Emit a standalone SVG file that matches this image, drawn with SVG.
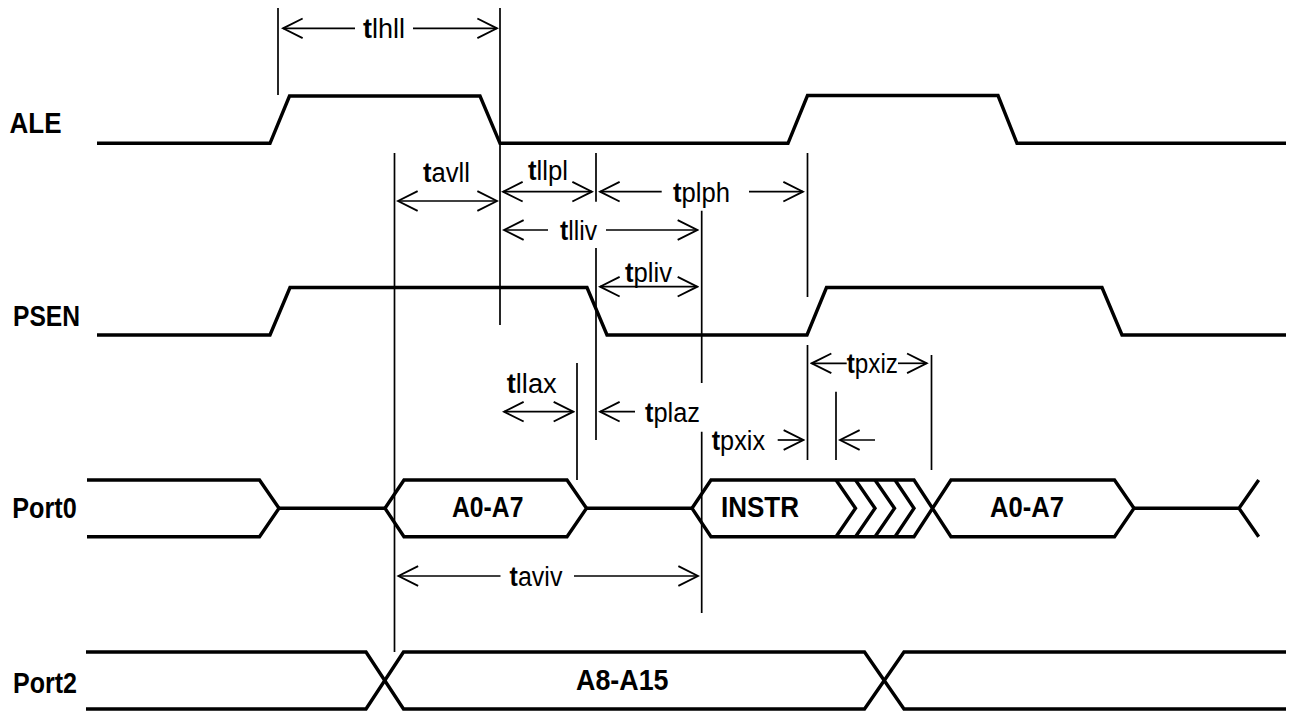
<svg xmlns="http://www.w3.org/2000/svg" width="1291" height="713" viewBox="0 0 1291 713">
<style>
.sig{fill:none;stroke:#000;stroke-width:3.4;stroke-linejoin:miter}
.ref{fill:none;stroke:#000;stroke-width:1.7}
.dim{fill:none;stroke:#000;stroke-width:1.7}
.name{font-family:"Liberation Sans",Arial,sans-serif;font-weight:bold;font-size:30px;fill:#000}
.bus{font-family:"Liberation Sans",Arial,sans-serif;font-weight:bold;font-size:29px;fill:#000;text-anchor:start}
.lab{font-family:"Liberation Sans",Arial,sans-serif;font-size:27px;fill:#000}
.b{font-weight:bold}
</style>
<defs>
<marker id="ah" markerUnits="userSpaceOnUse" markerWidth="24" markerHeight="24" viewBox="-20 -11 22 22" refX="0" refY="0" orient="auto-start-reverse">
<path d="M-18,-9 L0,0 L-18,9" fill="none" stroke="#000" stroke-width="1.7"/>
</marker>
</defs>
<rect width="1291" height="713" fill="#fff"/>

<g id="ALE">
<text class="name" x="9.5" y="133" textLength="52" lengthAdjust="spacingAndGlyphs">ALE</text>
<path class="sig" d="M97,143.3 H270 L289.5,96 H480 L500,143.3 H788 L807.5,95.5 H998 L1017,143.3 H1286"/>
</g>

<g id="PSEN">
<text class="name" x="13" y="326" textLength="67" lengthAdjust="spacingAndGlyphs">PSEN</text>
<path class="sig" d="M97,335 H270 L290,287.5 H587 L607,335 H807 L826.5,287.5 H1102 L1122,335 H1286"/>
</g>

<g id="Port0">
<text class="name" x="12.3" y="518.3" textLength="64.4" lengthAdjust="spacingAndGlyphs">Port0</text>
<path class="sig" d="M87,480 H259.5 L279,508.3 L259.5,536.7 H87"/>
<path class="sig" d="M279,508.3 H385"/>
<path class="sig" d="M385,508.3 L404,480 H567 L586.5,508.3 L567,536.7 H404 Z"/>
<path class="sig" d="M586.5,508.3 H692"/>
<path class="sig" d="M692,508.3 L711,480 H914 L951,536.7 H1114.5 L1134,508.3 L1114.5,480 H951 L914,536.7 H711 Z"/>
<path class="sig" d="M836,480 L855.5,508.3 L836,536.7 M855.5,480 L875,508.3 L855.5,536.7 M875,480 L894.5,508.3 L875,536.7 M895,480 L914,508.3 L895,536.7"/>
<path class="sig" d="M1134,508.3 H1239 M1258.7,480 L1239,508.3 L1258.7,536.7"/>
<text class="bus" x="452" y="517.3" textLength="71.4" lengthAdjust="spacingAndGlyphs">A0-A7</text>
<text class="bus" x="721" y="517.3" textLength="78" lengthAdjust="spacingAndGlyphs">INSTR</text>
<text class="bus" x="990" y="517.3" textLength="74" lengthAdjust="spacingAndGlyphs">A0-A7</text>
</g>

<g id="Port2">
<text class="name" x="13" y="693.3" textLength="64" lengthAdjust="spacingAndGlyphs">Port2</text>
<path class="sig" d="M86,652 H366 L403.5,709 H864.5 L904,652 H1286"/>
<path class="sig" d="M86,709 H366 L403.5,652 H864.5 L904,709 H1286"/>
<text class="bus" x="576" y="690" textLength="92.5" lengthAdjust="spacingAndGlyphs">A8-A15</text>
</g>

<g id="connectors">
<g id="reference-lines">
<path class="ref" d="M278,8 V95"/>
<path class="ref" d="M500,8 V325"/>
<path class="ref" d="M394.5,153 V652"/>
<path class="ref" d="M596,153 V201.7 M596,248 V440"/>
<path class="ref" d="M701.7,210.7 V383 M701.7,431.7 V613"/>
<path class="ref" d="M807.5,153 V297 M807.5,345 V460"/>
<path class="ref" d="M577,363 V480"/>
<path class="ref" d="M836,391.7 V460"/>
<path class="ref" d="M931.5,355 V470"/>
</g>
<g id="tlhll">
<path class="dim" d="M355,28.3 H283" marker-end="url(#ah)"/>
<path class="dim" d="M413,28.3 H497" marker-end="url(#ah)"/>
<text class="lab" x="363" y="37.5" textLength="42" lengthAdjust="spacingAndGlyphs"><tspan class="b">t</tspan>lhll</text>
</g>
<g id="tavll">
<path class="dim" d="M398,201 H497" marker-start="url(#ah)" marker-end="url(#ah)"/>
<text class="lab" x="423" y="181.7" textLength="47" lengthAdjust="spacingAndGlyphs"><tspan class="b">t</tspan>avll</text>
</g>
<g id="tllpl">
<path class="dim" d="M503,191.7 H592" marker-start="url(#ah)" marker-end="url(#ah)"/>
<text class="lab" x="528" y="180" textLength="40" lengthAdjust="spacingAndGlyphs"><tspan class="b">t</tspan>llpl</text>
</g>
<g id="tplph">
<path class="dim" d="M661.7,191.7 H600" marker-end="url(#ah)"/>
<path class="dim" d="M749,191.7 H803" marker-end="url(#ah)"/>
<text class="lab" x="673" y="201.7" textLength="57" lengthAdjust="spacingAndGlyphs"><tspan class="b">t</tspan>plph</text>
</g>
<g id="tlliv">
<path class="dim" d="M548,230 H504" marker-end="url(#ah)"/>
<path class="dim" d="M606,230 H697.3" marker-end="url(#ah)"/>
<text class="lab" x="560" y="240" textLength="37" lengthAdjust="spacingAndGlyphs"><tspan class="b">t</tspan>lliv</text>
</g>
<g id="tpliv">
<path class="dim" d="M600,286.7 H697.3" marker-start="url(#ah)" marker-end="url(#ah)"/>
<text class="lab" x="625" y="281.7" textLength="47" lengthAdjust="spacingAndGlyphs"><tspan class="b">t</tspan>pliv</text>
</g>
<g id="tllax">
<path class="dim" d="M504,411.7 H573.3" marker-start="url(#ah)" marker-end="url(#ah)"/>
<text class="lab" x="506.7" y="393.3" textLength="50" lengthAdjust="spacingAndGlyphs"><tspan class="b">t</tspan>llax</text>
</g>
<g id="tplaz">
<path class="dim" d="M635,411.7 H600" marker-end="url(#ah)"/>
<text class="lab" x="645" y="421.7" textLength="55" lengthAdjust="spacingAndGlyphs"><tspan class="b">t</tspan>plaz</text>
</g>
<g id="tpxix">
<path class="dim" d="M777.7,440 H803.3" marker-end="url(#ah)"/>
<path class="dim" d="M875,440 H840" marker-end="url(#ah)"/>
<text class="lab" x="711.7" y="450" textLength="53.3" lengthAdjust="spacingAndGlyphs"><tspan class="b">t</tspan>pxix</text>
</g>
<g id="tpxiz">
<path class="dim" d="M846.7,363.3 H811.7" marker-end="url(#ah)"/>
<path class="dim" d="M898,363.3 H926.7" marker-end="url(#ah)"/>
<text class="lab" x="846.7" y="373.3" textLength="51.3" lengthAdjust="spacingAndGlyphs"><tspan class="b">t</tspan>pxiz</text>
</g>
<g id="taviv">
<path class="dim" d="M500.5,576 H398.5" marker-end="url(#ah)"/>
<path class="dim" d="M574,576 H698" marker-end="url(#ah)"/>
<text class="lab" x="509.6" y="585.7" textLength="52.8" lengthAdjust="spacingAndGlyphs"><tspan class="b">t</tspan>aviv</text>
</g>
</g>
</svg>
